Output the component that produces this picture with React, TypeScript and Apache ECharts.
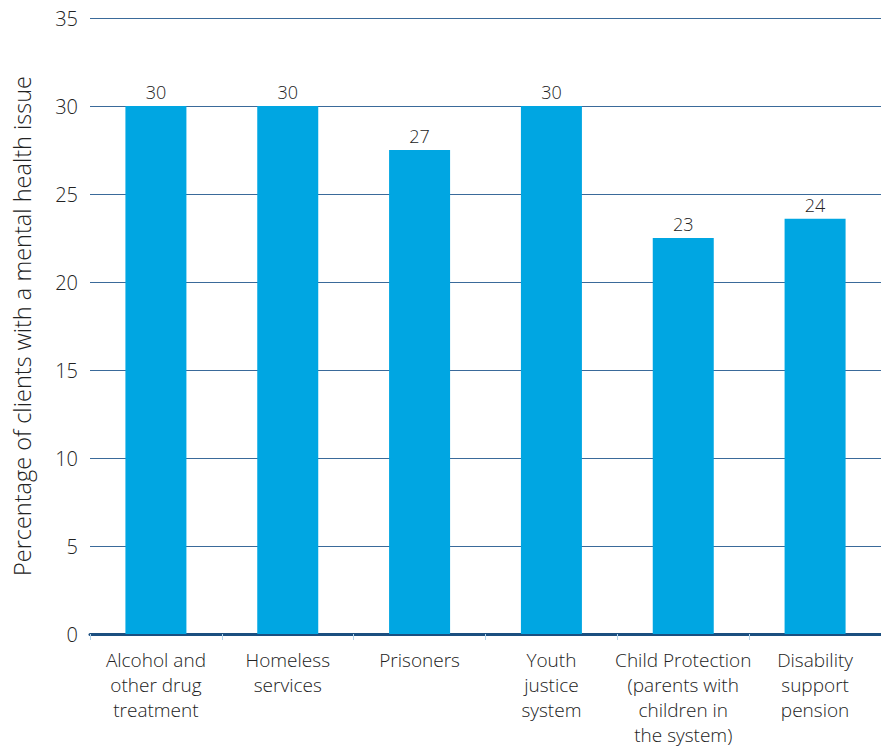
import React, { useEffect, useRef } from "react";
import * as echarts from "echarts";

const categories = [
  "Alcohol and\nother drug\ntreatment",
  "Homeless\nservices",
  "Prisoners",
  "Youth\njustice\nsystem",
  "Child Protection\n(parents with\nchildren in\nthe system)",
  "Disability\nsupport\npension",
];
const values = [30, 30, 27.5, 30, 22.5, 23.6];
const valueLabels = ["30", "30", "27", "30", "23", "24"];
const yAxisTitle = "Percentage of clients with a mental health issue";

export default function App() {
  const ref = useRef<HTMLDivElement>(null);
  useEffect(() => {
    if (!ref.current) return;
    const chart = echarts.init(ref.current, undefined, { renderer: "svg" });
    const font = "'Open Sans', 'Liberation Sans', Arial, sans-serif";
    chart.setOption({
      animation: false,
      grid: { left: 90, top: 18, width: 799, height: 616, containLabel: false },
      xAxis: {
        type: "category",
        data: categories,
        axisLine: { lineStyle: { color: "#1b4f80", width: 3 } },
        axisTick: { show: true, length: 6, lineStyle: { color: "#b5d6ec", width: 1 } },
        axisLabel: {
          color: "#222",
          fontSize: 19,
          fontWeight: 300,
          fontFamily: font,
          lineHeight: 25,
          margin: 13,
          interval: 0,
        },
      },
      yAxis: {
        type: "value",
        min: 0,
        max: 35,
        interval: 5,
        name: yAxisTitle,
        nameLocation: "middle",
        nameGap: 56,
        nameTextStyle: { color: "#222", fontSize: 23.5, fontWeight: 300, fontFamily: font },
        axisLine: { show: false },
        axisTick: { show: false },
        axisLabel: { color: "#222", fontSize: 20, fontWeight: 300, fontFamily: font, margin: 12 },
        splitLine: { lineStyle: { color: "#3a6a9a", width: 1 } },
      },
      series: [
        {
          type: "bar",
          data: values,
          barWidth: 61,
          itemStyle: { color: "#00a6e2" },
          label: {
            show: true,
            position: "top",
            distance: 5,
            color: "#222",
            fontSize: 18,
            fontWeight: 300,
            fontFamily: font,
            formatter: (p: any) => valueLabels[p.dataIndex],
          },
        },
      ],
    });
    return () => chart.dispose();
  }, []);
  return (
    <div
      ref={ref}
      style={{ position: "fixed", left: 0, top: 0, width: 881, height: 749, background: "#fff" }}
    />
  );
}
